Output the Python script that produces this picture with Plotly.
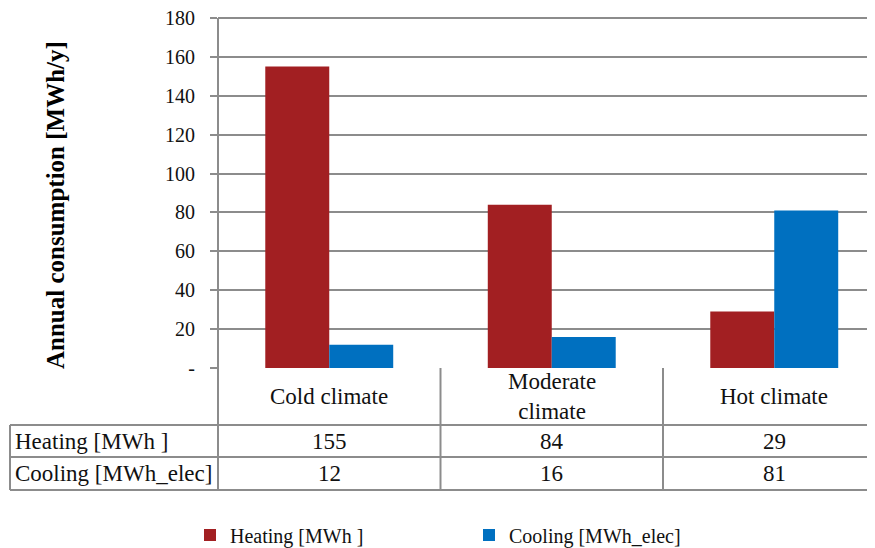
import plotly.graph_objects as go

# data
climates = ["Cold climate", "Moderate climate", "Hot climate"]
climate_labels = ["Cold climate", "Moderate<br>climate", "Hot climate"]
heating = [155, 84, 29]
cooling = [12, 16, 81]
series_names = ["Heating [MWh ]", "Cooling [MWh_elec]"]
y_ticks = [0, 20, 40, 60, 80, 100, 120, 140, 160, 180]
y_ticktext = ["-"] + [str(v) for v in y_ticks[1:]]

RED = "#A21F22"
BLUE = "#0070C0"
GRID = "#8c8c8c"
FONT = "Liberation Serif"

# the page body has an 8px margin, so work in window pixels and shift
OFF = 8
W, H = 875 - OFF, 548 - OFF
L, R, T, B = 218 - OFF, 0, 16 - OFF, 548 - 368
PW, PH = W - L - R, H - T - B
YMAX = 181


def px_x(x):
    # window pixel -> paper x
    return (x - OFF - L) / PW


def px_y(y):
    # window pixel -> paper y
    return (H - B - (y - OFF)) / PH


fig = go.Figure()
fig.add_trace(go.Bar(x=climates, y=heating, name=series_names[0],
                     marker=dict(color=RED, line=dict(width=0))))
fig.add_trace(go.Bar(x=climates, y=cooling, name=series_names[1],
                     marker=dict(color=BLUE, line=dict(width=0))))

shapes = []
line = dict(color=GRID, width=2)
# horizontal table lines
for yy in [425, 457, 490]:
    shapes.append(dict(type="line", xref="paper", yref="paper",
                       x0=px_x(10), x1=1.02, y0=px_y(yy), y1=px_y(yy), line=line))
# vertical table lines
shapes.append(dict(type="line", xref="paper", yref="paper",
                   x0=px_x(10), x1=px_x(10), y0=px_y(425), y1=px_y(490), line=line))
shapes.append(dict(type="line", xref="paper", yref="paper",
                   x0=0, x1=0, y0=px_y(18), y1=px_y(490), line=line))
for xb in [0.5, 1.5]:
    shapes.append(dict(type="line", xref="x", yref="paper",
                       x0=xb, x1=xb, y0=0, y1=px_y(490), line=line))

annotations = []
# y title
annotations.append(dict(text="<b>Annual consumption [MWh/y]</b>", textangle=-90,
                        xref="paper", yref="paper", x=px_x(56), y=px_y(205),
                        xanchor="center", yanchor="middle",
                        showarrow=False, font=dict(size=25, color="#000")))
# header row
for i, lab in enumerate(climate_labels):
    annotations.append(dict(text=lab, xref="x", yref="paper", x=i, y=px_y(396),
                            xanchor="center", yanchor="middle",
                            showarrow=False, font=dict(size=23, color="#111")))
# data rows
for name, vals, yy in [(series_names[0], heating, 441), (series_names[1], cooling, 473)]:
    annotations.append(dict(text=name, xref="paper", yref="paper", x=px_x(13),
                            y=px_y(yy), xanchor="left", yanchor="middle",
                            showarrow=False, font=dict(size=23, color="#111")))
    for i, v in enumerate(vals):
        annotations.append(dict(text=str(v), xref="x", yref="paper", x=i, y=px_y(yy),
                                xanchor="center", yanchor="middle",
                                showarrow=False, font=dict(size=23, color="#111")))

fig.update_layout(
    width=W, height=H,
    margin=dict(l=L, r=R, t=T, b=B, autoexpand=False),
    paper_bgcolor="white", plot_bgcolor="white",
    font=dict(family=FONT, size=22, color="#111"),
    barmode="group", bargap=0.425, bargroupgap=0,
    shapes=shapes, annotations=annotations,
    legend=dict(orientation="h", x=px_x(190), y=px_y(535), xanchor="left",
                yanchor="middle", entrywidth=234, entrywidthmode="pixels",
                font=dict(size=20), traceorder="normal"),
    xaxis=dict(range=[-0.5, -0.5 + PW / 222.5], showticklabels=False,
               showgrid=False, zeroline=False, showline=False, ticks="",
               automargin=False),
    yaxis=dict(range=[0, YMAX], tickvals=y_ticks, ticktext=y_ticktext,
               showgrid=True, gridcolor=GRID, gridwidth=2, zeroline=False,
               showline=False, ticks="outside", ticklen=7, tickcolor=GRID,
               tickwidth=2, ticklabelstandoff=11, tickfont=dict(size=20),
               ticklabeloverflow="allow", automargin=False),
)

fig.write_html("out.html")
